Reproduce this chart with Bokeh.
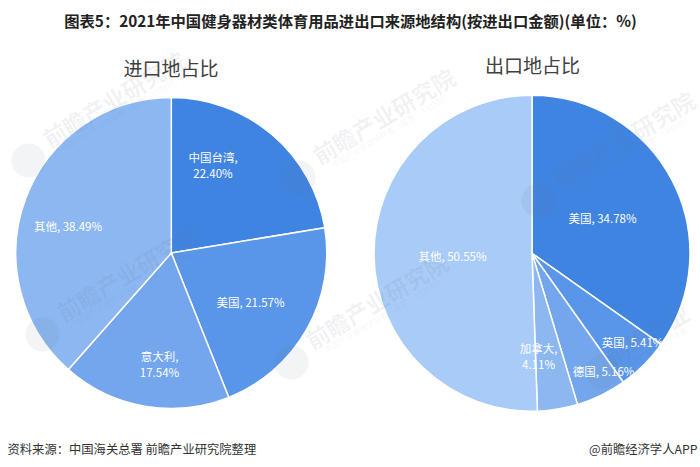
import math
from bokeh.core.properties import value
from bokeh.embed import file_html
from bokeh.models import Range1d
from bokeh.plotting import figure
from bokeh.resources import INLINE

FONT = value("Noto Sans CJK SC")

main_title = "图表5：2021年中国健身器材类体育用品进出口来源地结构(按进出口金额)(单位：%)"
source_text = "资料来源：中国海关总署 前瞻产业研究院整理"
credit_text = "@前瞻经济学人APP"

import_title = "进口地占比"
import_names = ["中国台湾", "美国", "意大利", "其他"]
import_values = [22.40, 21.57, 17.54, 38.49]
import_colors = ["#4084e2", "#5995e8", "#73a6ec", "#8db7f1"]
import_wrapped = [True, False, True, False]

export_title = "出口地占比"
export_names = ["美国", "英国", "德国", "加拿大", "其他"]
export_values = [34.78, 5.41, 5.16, 4.11, 50.55]
export_colors = ["#4084e2", "#5995e8", "#73a6ec", "#8db7f1", "#a8cbf8"]
export_wrapped = [False, False, False, True, False]

# Layout, in page pixels (x right, y down)
PAGE_W = 700
PAGE_H = 467
import_pie = (170.8, 252.5, 155.5)
export_pie = (531.5, 252.8, 158)
import_label_xy = [(212.5, 164), (250, 301), (159, 363), (67.5, 225)]
export_label_xy = [(602, 217), (632, 341), (603, 370), (538, 355), (452, 255)]
wm_centers = [(113, 98), (127, 272), (383, 115), (376, 300), (623, 138), (647, 333)]
wm_texts = ["前瞻产业研究院"] * 5 + ["前瞻产业"]
wm_subs = ["中国产业咨询领导者（股票：839599）"] * 5 + ["中国产业咨询领导者"]

p = figure(width=PAGE_W, height=PAGE_H,
           x_range=Range1d(0, PAGE_W), y_range=Range1d(0, PAGE_H),
           output_backend="svg", toolbar_location=None,
           min_border=0, outline_line_color=None, background_fill_color="white")
p.axis.visible = False
p.grid.visible = False


def Y(py):
    return PAGE_H - py


def draw_pie(pie, values, colors):
    cx, cy, r = pie
    total = sum(values)
    start = math.pi / 2
    for val, color in zip(values, colors):
        end = start - 2 * math.pi * val / total
        p.wedge(x=[cx], y=[Y(cy)], radius=r, start_angle=end, end_angle=start,
                fill_color=color, line_color="white", line_width=1.5)
        start = end


def draw_labels(names, values, wrapped, xy):
    for name, val, wrap, (lx, ly) in zip(names, values, wrapped, xy):
        pct = f"{val:.2f}%"
        lines = [name + ",", pct] if wrap else [name + ", " + pct]
        top = ly - 8 * (len(lines) - 1)
        for i, line in enumerate(lines):
            p.text(x=[lx], y=[Y(top + 16 * i)], text=[line], text_color="white",
                   text_font=FONT, text_font_size="11.5px",
                   text_align="center", text_baseline="middle")


draw_pie(import_pie, import_values, import_colors)
draw_pie(export_pie, export_values, export_colors)

# Faint watermarks
WM_ANGLE = math.radians(31)
for (wx, wy), wt, ws, full in zip(wm_centers, wm_texts, wm_subs, [1, 1, 1, 1, 1, 0]):
    lx, ly = (wx - 85, wy + 62) if full else (wx - 45, wy + 38)
    p.scatter(x=[lx], y=[Y(ly)], size=34, marker="circle",
              fill_color="#5f6f85", fill_alpha=0.08, line_color=None)
    p.text(x=[wx], y=[Y(wy)], text=[wt], angle=WM_ANGLE,
           text_color="#5f6f85", text_alpha=0.09, text_font=FONT,
           text_font_size="23px", text_font_style="bold",
           text_align="center", text_baseline="middle")
    p.text(x=[wx + 8], y=[Y(wy + 14)], text=[ws],
           angle=WM_ANGLE, text_color="#5f6f85", text_alpha=0.09, text_font=FONT,
           text_font_size="8px", text_align="center", text_baseline="middle")

draw_labels(import_names, import_values, import_wrapped, import_label_xy)
draw_labels(export_names, export_values, export_wrapped, export_label_xy)

p.text(x=[350], y=[Y(19.5)], text=[main_title], text_color="#222222", text_font=FONT,
       text_font_size="15.3px", text_font_style="bold",
       text_align="center", text_baseline="middle")
p.text(x=[170.5], y=[Y(67)], text=[import_title], text_color="#404040", text_font=FONT,
       text_font_size="19px", text_align="center", text_baseline="middle")
p.text(x=[532], y=[Y(64)], text=[export_title], text_color="#404040", text_font=FONT,
       text_font_size="19px", text_align="center", text_baseline="middle")
p.text(x=[7], y=[Y(448)], text=[source_text], text_color="#333333", text_font=FONT,
       text_font_size="12.3px", text_align="left", text_baseline="middle")
p.text(x=[697], y=[Y(448)], text=[credit_text], text_color="#333333", text_font=FONT,
       text_font_size="12.3px", text_align="right", text_baseline="middle")

open("out.html", "w").write(file_html(p, INLINE))
